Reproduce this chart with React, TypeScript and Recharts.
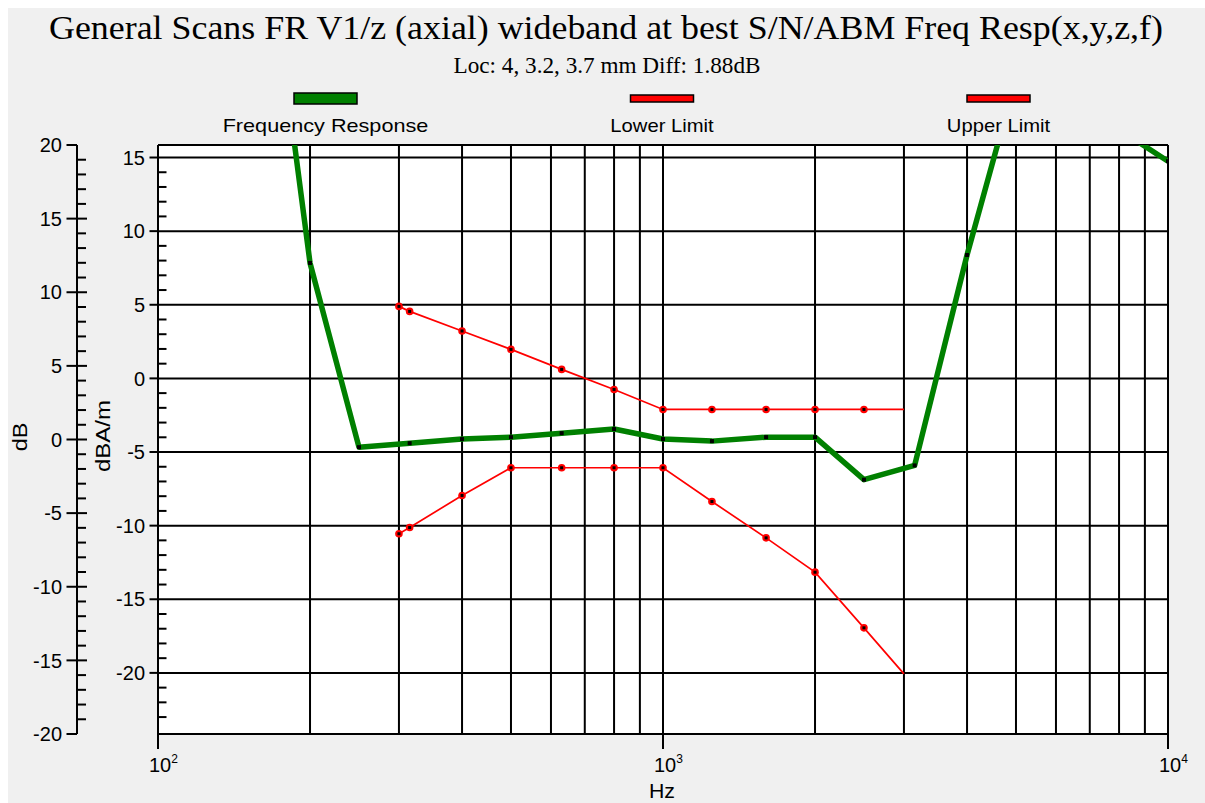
import React from 'react';
import { LineChart, Line, XAxis, YAxis, CartesianGrid, Customized } from 'recharts';

// ---------- data ----------
const frFreq = [160, 200, 250, 315, 400, 500, 630, 800, 1000, 1250, 1600, 2000, 2500, 3150, 4000, 5000, 6300, 8000, 10000];
const frLevel = [33.3, 7.84, -4.67, -4.4, -4.12, -3.99, -3.72, -3.44, -4.12, -4.26, -3.99, -3.99, -6.88, -5.91, 8.38, 20.4, 21.0, 16.9, 14.75];

const limitFreq = [300, 315, 400, 500, 630, 800, 1000, 1250, 1600, 2000, 2500, 3000];
const upperLimit = [4.89, 4.55, 3.22, 1.97, 0.61, -0.75, -2.11, -2.11, -2.11, -2.11, -2.11, -2.11];
const lowerLimit = [-10.55, -10.13, -7.95, -6.07, -6.07, -6.07, -6.07, -8.36, -10.83, -13.16, -16.94, -20.07];

const xTicks = [100, 200, 300, 400, 500, 600, 700, 800, 900, 1000, 2000, 3000, 4000, 5000, 6000, 7000, 8000, 9000, 10000];
const xDecades = [100, 1000, 10000];
const xDecadeExp = ['2', '3', '4'];

const dbTicks = [-20, -19, -18, -17, -16, -15, -14, -13, -12, -11, -10, -9, -8, -7, -6, -5, -4, -3, -2, -1, 0, 1, 2, 3, 4, 5, 6, 7, 8, 9, 10, 11, 12, 13, 14, 15, 16, 17, 18, 19, 20];
const dbamTicks = [-23, -22, -21, -20, -19, -18, -17, -16, -15, -14, -13, -12, -11, -10, -9, -8, -7, -6, -5, -4, -3, -2, -1, 0, 1, 2, 3, 4, 5, 6, 7, 8, 9, 10, 11, 12, 13, 14, 15];
const gridTicks = [-20, -15, -10, -5, 0, 5, 10, 15];

const dbDomain = [-20, 20];
const dbamDomain = [-24.15, 15.85];

const seriesNames = ['Frequency Response', 'Lower Limit', 'Upper Limit'];
const seriesColors = ['#008000', '#ff0000', '#ff0000'];

const titleText = 'General Scans FR V1/z (axial) wideband at best S/N/ABM Freq Resp(x,y,z,f)';
const subtitleText = 'Loc: 4, 3.2, 3.7 mm Diff: 1.88dB';

// ---------- build tables ----------
const frData = frFreq.map((f, i) => ({ f, v: frLevel[i] }));
const upperData = limitFreq.map((f, i) => ({ f, v: upperLimit[i] }));
const lowerData = limitFreq.map((f, i) => ({ f, v: lowerLimit[i] }));

const W = 1197;
const H = 795;
const SANS = "'Liberation Sans', Arial, sans-serif";
const SERIF = "'Liberation Serif', 'Times New Roman', serif";

// axis ids (alphabetical order decides stacking: first = next to plot)
const INNER = 'a_dbam';
const OUTER = 'b_db';

// ---------- ticks ----------
const DbTick = (props: any) => {
  const { x, y, payload } = props;
  const v = payload.value;
  const major = v % 5 === 0;
  const end = Math.abs(v) === 20;
  return (
    <g>
      {major ? (
        <line x1={x - 10.5} x2={end ? x : x + 10} y1={y} y2={y} stroke="#000" strokeWidth={2} />
      ) : (
        <line x1={x} x2={x + 9} y1={y} y2={y} stroke="#000" strokeWidth={2} />
      )}
      {major && (
        <text x={x - 15} y={y} dy="0.36em" textAnchor="end" fontFamily={SANS} fontSize={20} fill="#000">
          {String(v)}
        </text>
      )}
    </g>
  );
};

const DbamTick = (props: any) => {
  const { x, y, payload } = props;
  const v = payload.value;
  const major = v % 5 === 0;
  return (
    <g>
      {major ? (
        <line x1={x - 8.5} x2={x} y1={y} y2={y} stroke="#000" strokeWidth={2} />
      ) : (
        <line x1={x} x2={x + 8.5} y1={y} y2={y} stroke="#000" strokeWidth={2} />
      )}
      {major && (
        <text x={x - 13} y={y} dy="0.36em" textAnchor="end" fontFamily={SANS} fontSize={20} fill="#000">
          {String(v)}
        </text>
      )}
    </g>
  );
};

const XTick = (props: any) => {
  const { x, y, payload } = props;
  const idx = xDecades.indexOf(payload.value);
  if (idx < 0) return <g />;
  return (
    <g>
      <line x1={x} x2={x} y1={y} y2={y + 15} stroke="#000" strokeWidth={2} />
      <text x={x - 9} y={y + 38} textAnchor="start" fontFamily={SANS} fontSize={20} fill="#000">
        10
        <tspan dy={-9} fontSize={12}>{xDecadeExp[idx]}</tspan>
      </text>
    </g>
  );
};

// ---------- dots ----------
const frDot = (p: any) => (
  <rect key={`fr-${p.index}`} x={p.cx - 2} y={p.cy - 2} width={4} height={4} fill="#000" />
);

const makeLimitDot = (name: string, len: number) => (p: any) => {
  if (p.index === len - 1 || p.cx == null || p.cy == null) return <g key={`${name}-${p.index}`} />;
  return (
    <g key={`${name}-${p.index}`}>
      <circle cx={p.cx} cy={p.cy} r={3.8} fill="#ff0000" />
      <rect x={p.cx - 1.5} y={p.cy - 1.5} width={3} height={3} fill="#000" />
    </g>
  );
};

// ---------- title / legend / axis labels ----------
const legendCenters = [317.5, 654, 990.5];
const legendTextLen = [205.7, 103.3, 103.3];
const swatchHeights = [11, 7, 7];

const Overlay = () => (
  <g>
    <text x={598} y={31} textAnchor="middle" fontFamily={SERIF} fontSize={34} fill="#000"
      textLength={1114} lengthAdjust="spacingAndGlyphs">{titleText}</text>
    <text x={599} y={64.5} textAnchor="middle" fontFamily={SERIF} fontSize={23} fill="#000"
      textLength={307} lengthAdjust="spacingAndGlyphs">{subtitleText}</text>
    {seriesNames.map((n, i) => (
      <g key={n}>
        <rect x={legendCenters[i] - 31.5} y={90.5 - swatchHeights[i] / 2} width={63} height={swatchHeights[i]}
          fill={seriesColors[i]} stroke="#000" strokeWidth={1.5} />
        <text x={legendCenters[i]} y={123.5} textAnchor="middle" fontFamily={SANS} fontSize={19} fill="#000"
          textLength={legendTextLen[i]} lengthAdjust="spacingAndGlyphs">{n}</text>
      </g>
    ))}
    <text transform="translate(19,429) rotate(-90)" textAnchor="middle" fontFamily={SANS} fontSize={20} fill="#000"
      textLength={28.7} lengthAdjust="spacingAndGlyphs">dB</text>
    <text transform="translate(102,428) rotate(-90)" textAnchor="middle" fontFamily={SANS} fontSize={20} fill="#000"
      textLength={72} lengthAdjust="spacingAndGlyphs">dBA/m</text>
    <text x={654} y={790} textAnchor="middle" fontFamily={SANS} fontSize={20} fill="#000"
      textLength={26} lengthAdjust="spacingAndGlyphs">Hz</text>
  </g>
);

const axisLineStyle = { stroke: '#000', strokeWidth: 2 };

export default function App() {
  return (
    <div style={{ position: 'absolute', left: 0, top: 0, width: 1205, height: 803, background: '#ffffff', overflow: 'hidden' }}>
      <div style={{ position: 'absolute', left: 8, top: 8, width: W, height: H, background: '#f0f0f0' }}>
        <LineChart width={W} height={H} margin={{ top: 137, right: 37, bottom: 0, left: 0 }}>
          <CartesianGrid yAxisId="grid" stroke="#000" strokeWidth={2} fill="#ffffff" fillOpacity={1} />
          <XAxis
            dataKey="f"
            type="number"
            scale="log"
            domain={[100, 10000]}
            allowDataOverflow
            ticks={xTicks}
            interval={0}
            height={69}
            tickSize={0}
            tickMargin={0}
            tickLine={false}
            axisLine={axisLineStyle}
            tick={(p: any) => <XTick {...p} />}
          />
          <XAxis xAxisId="top" orientation="top" type="number" domain={[0, 1]} height={0}
            tick={false} tickLine={false} axisLine={axisLineStyle} />
          <YAxis
            yAxisId={INNER}
            type="number"
            domain={dbamDomain}
            allowDataOverflow
            ticks={dbamTicks}
            interval={0}
            width={81}
            tickSize={0}
            tickMargin={0}
            tickLine={false}
            axisLine={axisLineStyle}
            tick={(p: any) => <DbamTick {...p} />}
          />
          <YAxis
            yAxisId={OUTER}
            type="number"
            domain={dbDomain}
            allowDataOverflow
            ticks={dbTicks}
            interval={0}
            width={69}
            tickSize={0}
            tickMargin={0}
            tickLine={false}
            axisLine={axisLineStyle}
            tick={(p: any) => <DbTick {...p} />}
          />
          <YAxis yAxisId="grid" hide type="number" domain={dbamDomain} allowDataOverflow ticks={gridTicks} interval={0} />
          <YAxis yAxisId="right" orientation="right" type="number" domain={[0, 1]} width={0}
            tick={false} tickLine={false} axisLine={axisLineStyle} />
          <Line
            data={upperData}
            dataKey="v"
            name={seriesNames[2]}
            yAxisId={INNER}
            type="linear"
            stroke={seriesColors[2]}
            strokeWidth={1.7}
            dot={makeLimitDot('up', upperData.length)}
            activeDot={false}
            isAnimationActive={false}
          />
          <Line
            data={lowerData}
            dataKey="v"
            name={seriesNames[1]}
            yAxisId={INNER}
            type="linear"
            stroke={seriesColors[1]}
            strokeWidth={1.7}
            dot={makeLimitDot('lo', lowerData.length)}
            activeDot={false}
            isAnimationActive={false}
          />
          <Line
            data={frData}
            dataKey="v"
            name={seriesNames[0]}
            yAxisId={INNER}
            type="linear"
            stroke={seriesColors[0]}
            strokeWidth={5.5}
            strokeLinejoin="round"
            dot={frDot}
            activeDot={false}
            isAnimationActive={false}
          />
          <Customized component={Overlay} />
        </LineChart>
      </div>
    </div>
  );
}
